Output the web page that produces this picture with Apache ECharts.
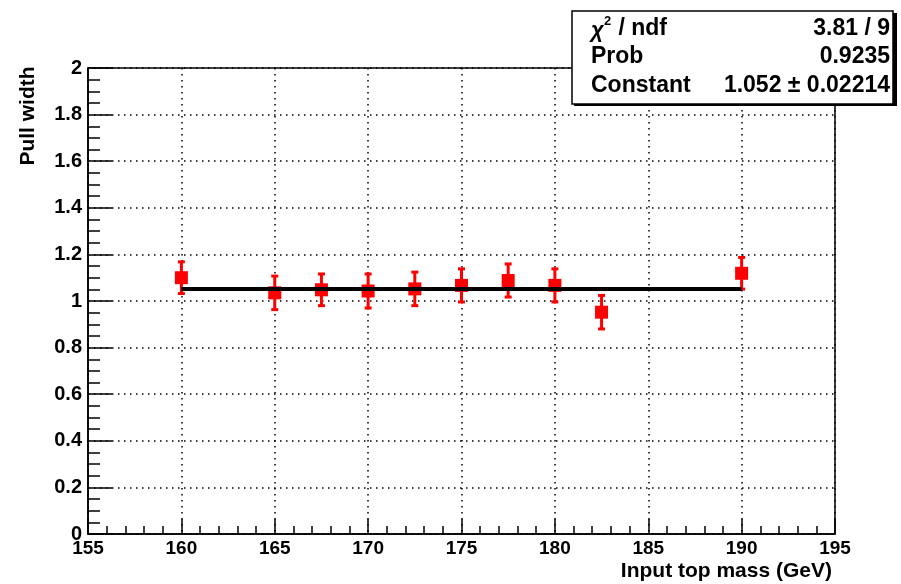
<!DOCTYPE html>
<html>
<head>
<meta charset="utf-8">
<script src="https://cdn.jsdelivr.net/npm/echarts@6/dist/echarts.min.js"></script>
<style>
  html, body { margin: 0; padding: 0; background: #fff; }
  #chart { width: 901px; height: 584px; }
</style>
</head>
<body>
<div id="chart"></div>
<script>
// input top mass (GeV) and fitted pull width with its error
var masses = [160, 165, 167.5, 170, 172.5, 175, 177.5, 180, 182.5, 190];
var pullWidths = [1.10, 1.035, 1.048, 1.043, 1.052, 1.067, 1.088, 1.067, 0.952, 1.119];
var pullErrors = [0.068, 0.072, 0.068, 0.073, 0.072, 0.071, 0.071, 0.071, 0.072, 0.068];

// constant fit over the mass range
var fitRange = [160, 190];
var fitConstant = 1.052;

// stat box lines
var statLabels = ['Prob', 'Constant'];
var statValues = ['3.81 / 9', '0.9235', '1.052 \u00b1 0.02214'];

var FONT = 'Liberation Sans, Arial, Helvetica, sans-serif';

var pointData = masses.map(function (m, i) { return [m, pullWidths[i]]; });
var errData = masses.map(function (m, i) { return [m, pullWidths[i] - pullErrors[i], pullWidths[i] + pullErrors[i]]; });

function renderErr(params, api) {
    var x = api.value(0);
    var lo = api.coord([x, api.value(1)]);
    var hi = api.coord([x, api.value(2)]);
    var st = { stroke: '#ff0000', lineWidth: 3 };
    var cap = 3.5;
    return {
        type: 'group',
        children: [
            { type: 'line', shape: { x1: lo[0], y1: lo[1], x2: hi[0], y2: hi[1] }, style: st },
            { type: 'line', shape: { x1: lo[0] - cap, y1: lo[1], x2: lo[0] + cap, y2: lo[1] }, style: st },
            { type: 'line', shape: { x1: hi[0] - cap, y1: hi[1], x2: hi[0] + cap, y2: hi[1] }, style: st }
        ]
    };
}

var myChart = echarts.init(document.getElementById('chart'));

var txt = { fontFamily: FONT, fontWeight: 'bold', fontSize: 23, fill: '#000' };

myChart.setOption({
    animation: false,
    backgroundColor: '#fff',
    grid: {
        left: 88, right: 66, top: 68, bottom: 50,
        show: true, borderColor: '#000', borderWidth: 1.5
    },
    xAxis: {
        type: 'value',
        min: 155, max: 195, interval: 5,
        name: 'Input top mass (GeV)',
        nameLocation: 'end',
        nameGap: 0,
        nameTextStyle: {
            fontFamily: FONT, fontWeight: 'bold', fontSize: 21, color: '#000',
            align: 'right', verticalAlign: 'top', padding: [27, 3, 0, 0]
        },
        axisLine: { lineStyle: { color: '#000', width: 1.5 } },
        axisTick: { inside: true, length: 15, lineStyle: { color: '#000', width: 1.5 } },
        minorTick: { show: true, splitNumber: 5, length: 8, lineStyle: { color: '#000', width: 1.5 } },
        axisLabel: { fontFamily: FONT, fontWeight: 'bold', fontSize: 19, color: '#000', margin: 5 },
        splitLine: { show: true, lineStyle: { color: '#000', width: 1.5, type: [1.5, 4.5] } }
    },
    yAxis: {
        type: 'value',
        min: 0, max: 2, interval: 0.2,
        axisLine: { lineStyle: { color: '#000', width: 1.5 } },
        axisTick: { inside: true, length: 24, lineStyle: { color: '#000', width: 1.5 } },
        minorTick: { show: true, splitNumber: 4, length: 12, lineStyle: { color: '#000', width: 1.5 } },
        axisLabel: { fontFamily: FONT, fontWeight: 'bold', fontSize: 20, color: '#000', margin: 6 },
        splitLine: { show: true, lineStyle: { color: '#000', width: 1.5, type: [1.5, 4.5] } }
    },
    series: [
        {
            type: 'custom',
            renderItem: renderErr,
            data: errData,
            encode: { x: 0, y: [1, 2] },
            z: 2
        },
        {
            type: 'scatter',
            data: pointData,
            symbol: 'rect',
            symbolSize: 13,
            itemStyle: { color: '#ff0000', opacity: 1 },
            z: 3
        },
        {
            type: 'line',
            data: [[fitRange[0], fitConstant], [fitRange[1], fitConstant]],
            showSymbol: false,
            lineStyle: { color: '#000', width: 4 },
            z: 4
        }
    ],
    graphic: [
        {
            type: 'text', x: 28, y: 116, rotation: Math.PI / 2,
            style: { text: 'Pull width', fontFamily: FONT, fontWeight: 'bold', fontSize: 21, fill: '#000',
                     align: 'center', verticalAlign: 'middle' }
        },
        // stat box shadow + box
        { type: 'rect', shape: { x: 574, y: 13, width: 323, height: 93 }, style: { fill: '#000' }, z: 10 },
        { type: 'rect', shape: { x: 572, y: 11, width: 321, height: 93 }, style: { fill: '#fff', stroke: '#000', lineWidth: 1.5 }, z: 11 },
        { type: 'text', x: 591, y: 31, style: Object.assign({}, txt, { text: '\u03c7', fontStyle: 'italic', fontSize: 22, verticalAlign: 'middle' }), z: 12 },
        { type: 'text', x: 604, y: 21, style: Object.assign({}, txt, { text: '2', fontSize: 13, verticalAlign: 'middle' }), z: 12 },
        { type: 'text', x: 612, y: 29, style: Object.assign({}, txt, { text: ' / ndf', verticalAlign: 'middle' }), z: 12 },
        { type: 'text', x: 591, y: 57, style: Object.assign({}, txt, { text: statLabels[0], verticalAlign: 'middle' }), z: 12 },
        { type: 'text', x: 591, y: 86, style: Object.assign({}, txt, { text: statLabels[1], verticalAlign: 'middle' }), z: 12 },
        { type: 'text', x: 890, y: 29, style: Object.assign({}, txt, { text: statValues[0], align: 'right', verticalAlign: 'middle' }), z: 12 },
        { type: 'text', x: 890, y: 57, style: Object.assign({}, txt, { text: statValues[1], align: 'right', verticalAlign: 'middle' }), z: 12 },
        { type: 'text', x: 890, y: 86, style: Object.assign({}, txt, { text: statValues[2], align: 'right', verticalAlign: 'middle' }), z: 12 }
    ]
});
</script>
</body>
</html>
